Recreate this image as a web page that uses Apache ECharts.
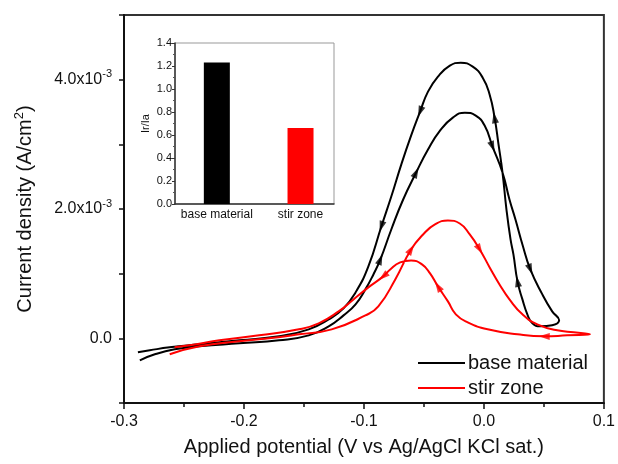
<!DOCTYPE html>
<html>
<head>
<meta charset="utf-8">
<script src="https://cdn.jsdelivr.net/npm/echarts@6/dist/echarts.min.js"></script>
<style>
  html, body { margin: 0; padding: 0; background: #fff; }
  #main { width: 618px; height: 464px; }
</style>
</head>
<body>
<div id="main"></div>
<script>
  // potential in V vs Ag/AgCl, current density in units of 1e-3 A/cm2
  // each loop is in scan order: forward sweep, turn, reverse sweep
  var baseE = [-0.2868, -0.2743, -0.2578, -0.2371, -0.2039, -0.1708, -0.1460, -0.1294, -0.1170, -0.1070,
    -0.0988, -0.0921, -0.0863, -0.0772, -0.0673, -0.0565, -0.0466, -0.0366, -0.0259, -0.0159,
    -0.0068, 0.0006, 0.0072, 0.0155, 0.0213, 0.0263, 0.0321, 0.0387, 0.0487, 0.0569,
    0.0627, 0.0569, 0.0470, 0.0404, 0.0362, 0.0321, 0.0280, 0.0246, 0.0222, 0.0188,
    0.0155, 0.0122, 0.0089, 0.0048, -0.0010, -0.0093, -0.0193, -0.0284, -0.0383, -0.0466,
    -0.0532, -0.0607, -0.0689, -0.0772, -0.0855, -0.0963, -0.1070, -0.1170, -0.1294, -0.1460,
    -0.1708, -0.2039, -0.2371, -0.2619, -0.2785, -0.2884];
  var baseJ = [-0.340, -0.247, -0.170, -0.124, -0.077, -0.031, 0.046, 0.185, 0.355, 0.525,
    0.757, 0.988, 1.220, 1.683, 2.147, 2.564, 2.919, 3.212, 3.413, 3.490,
    3.444, 3.290, 2.965, 2.564, 2.147, 1.838, 1.452, 1.066, 0.680, 0.417,
    0.278, 0.201, 0.185, 0.232, 0.371, 0.602, 0.880, 1.297, 1.529, 1.992,
    2.564, 2.996, 3.413, 3.768, 4.031, 4.201, 4.263, 4.216, 4.046, 3.815,
    3.506, 3.135, 2.687, 2.193, 1.730, 1.112, 0.710, 0.463, 0.293, 0.139,
    0.031, -0.031, -0.093, -0.139, -0.185, -0.216];
  var baseArrowAt = [12, 15, 22, 27, 36, 42, 50, 54];

  var stirE = [-0.2619, -0.2371, -0.2039, -0.1791, -0.1542, -0.1269, -0.0988, -0.0880, -0.0739, -0.0607,
    -0.0507, -0.0408, -0.0300, -0.0201, -0.0118, -0.0035, 0.0048, 0.0130, 0.0213, 0.0321,
    0.0445, 0.0611, 0.0884, 0.0694, 0.0503, 0.0280, 0.0031, -0.0135, -0.0234, -0.0300,
    -0.0383, -0.0449, -0.0516, -0.0607, -0.0698, -0.0781, -0.0839, -0.0963, -0.1087, -0.1211,
    -0.1377, -0.1542, -0.1874, -0.2205, -0.2453, -0.2578];
  var stirJ = [-0.247, -0.124, -0.046, 0.000, 0.062, 0.139, 0.355, 0.494, 0.911, 1.375,
    1.606, 1.761, 1.822, 1.776, 1.606, 1.375, 1.097, 0.834, 0.602, 0.371,
    0.216, 0.124, 0.062, 0.046, 0.031, 0.062, 0.139, 0.247, 0.371, 0.571,
    0.803, 1.004, 1.143, 1.205, 1.174, 1.066, 0.958, 0.788, 0.602, 0.417,
    0.232, 0.139, 0.046, -0.031, -0.108, -0.139];
  var stirArrowAt = [9, 15, 24, 30, 36];

  var insetCategories = ['base material', 'stir zone'];
  var insetRatio = [1.23, 0.66];

  var font = 'Liberation Sans, Arial, sans-serif';

  function pairs(xs, js) {
    return xs.map(function (x, i) { return [x, js[i] * 1e-3]; });
  }

  var chart = echarts.init(document.getElementById('main'));

  chart.setOption({
    animation: false,
    backgroundColor: '#fff',
    textStyle: {fontFamily: font, color: '#111'},
    grid: [
      {left: 124, top: 15, width: 483, height: 388, show: true, borderColor: '#333', borderWidth: 2},
      {left: 175, top: 43, width: 159, height: 161, show: true, borderColor: '#999', borderWidth: 1}
    ],
    xAxis: [
      {
        type: 'value', gridIndex: 0, min: -0.3, max: 0.1, interval: 0.1,
        name: 'Applied potential (V vs Ag/AgCl KCl sat.)', nameLocation: 'middle', nameGap: 34,
        nameTextStyle: {fontSize: 20, color: '#111', fontFamily: font},
        axisLine: {onZero: false, lineStyle: {color: '#111', width: 2}},
        axisTick: {length: 6, lineStyle: {color: '#111', width: 1.5}},
        minorTick: {show: true, splitNumber: 2, length: 4, lineStyle: {color: '#111', width: 1.5}},
        splitLine: {show: false},
        axisLabel: {
          fontSize: 16, color: '#111', margin: 11, fontFamily: font,
          formatter: function (v) { return Math.abs(v) < 1e-9 ? '0.0' : v.toFixed(1); }
        }
      },
      {
        type: 'value', gridIndex: 1, min: 0.5, max: 2.4, interval: 0.5,
        axisLine: {onZero: false, lineStyle: {color: '#333', width: 1.5}},
        axisTick: {show: false},
        splitLine: {show: false},
        axisLabel: {
          fontSize: 12, color: '#111', margin: 5, fontFamily: font, showMaxLabel: false,
          formatter: function (v) {
            var i = Math.round(v) - 1;
            return Math.abs(v - Math.round(v)) < 1e-9 && insetCategories[i] ? insetCategories[i] : '';
          }
        }
      }
    ],
    yAxis: [
      {
        type: 'value', gridIndex: 0, min: -1e-3, max: 5e-3, interval: 1e-3,
        name: '{n|Current density (A/cm}{s|2}{n|)}', nameLocation: 'middle', nameGap: 87,
        nameTextStyle: {
          rich: {
            n: {fontSize: 20, color: '#111', fontFamily: font, lineHeight: 24},
            s: {fontSize: 13, color: '#111', fontFamily: font, lineHeight: 13, verticalAlign: 'top'}
          }
        },
        axisLine: {onZero: false, lineStyle: {color: '#111', width: 2}},
        axisTick: {length: 5, lineStyle: {color: '#111', width: 1.5}},
        splitLine: {show: false},
        axisLabel: {
          margin: 12,
          formatter: function (v) {
            var m = Math.round(v * 1e3);
            if (m === 0) return '{m|0.0}';
            if (m % 2 !== 0) return '';
            return '{m|' + m.toFixed(1) + 'x10}{s|-3}';
          },
          rich: {
            m: {fontSize: 16, color: '#111', fontFamily: font, lineHeight: 22},
            s: {fontSize: 11, color: '#111', fontFamily: font, lineHeight: 11, verticalAlign: 'top'}
          }
        }
      },
      {
        type: 'value', gridIndex: 1, min: 0, max: 1.4, interval: 0.2,
        name: 'Ir/Ia', nameLocation: 'middle', nameGap: 24,
        nameTextStyle: {fontSize: 11, color: '#111', fontFamily: font},
        axisLine: {onZero: false, lineStyle: {color: '#333', width: 1.5}},
        axisTick: {length: 3, lineStyle: {color: '#333'}},
        minorTick: {show: true, splitNumber: 2, length: 2, lineStyle: {color: '#555'}},
        splitLine: {show: false},
        axisLabel: {
          fontSize: 11, color: '#111', margin: 3, fontFamily: font,
          formatter: function (v) { return v.toFixed(1); }
        }
      }
    ],
    legend: {
      left: 413, top: 348, orient: 'vertical', itemGap: 5,
      icon: 'rect', itemWidth: 47, itemHeight: 2,
      data: ['base material', 'stir zone'],
      textStyle: {fontSize: 20, color: '#111', fontFamily: font, padding: [0, 0, 0, -2]}
    },
    series: [
      {
        name: 'base material', type: 'line', xAxisIndex: 0, yAxisIndex: 0,
        data: pairs(baseE, baseJ), smooth: 0.5, symbol: 'none',
        lineStyle: {color: '#000', width: 2}, itemStyle: {color: '#000'}
      },
      {
        name: 'stir zone', type: 'line', xAxisIndex: 0, yAxisIndex: 0,
        data: pairs(stirE, stirJ), smooth: 0.5, symbol: 'none',
        lineStyle: {color: '#ff0000', width: 2}, itemStyle: {color: '#ff0000'}
      },
      {
        id: 'baseArrows', type: 'scatter', xAxisIndex: 0, yAxisIndex: 0,
        symbol: 'triangle', symbolSize: [7, 11], itemStyle: {color: '#000'}, data: [], z: 3
      },
      {
        id: 'stirArrows', type: 'scatter', xAxisIndex: 0, yAxisIndex: 0,
        symbol: 'triangle', symbolSize: [7, 11], itemStyle: {color: '#ff0000'}, data: [], z: 3
      },
      {
        type: 'bar', xAxisIndex: 1, yAxisIndex: 1, barWidth: 26,
        data: insetRatio.map(function (v, i) { return [i + 1, v]; }),
        itemStyle: {color: function (p) { return p.dataIndex === 0 ? '#000' : '#ff0000'; }}
      }
    ]
  });

  // arrowheads sit on data points, turned along the scan direction in screen space
  function arrows(xs, js, idx) {
    var pts = pairs(xs, js);
    return idx.map(function (i) {
      var a = chart.convertToPixel({gridIndex: 0}, pts[i - 1]);
      var b = chart.convertToPixel({gridIndex: 0}, pts[i + 1]);
      var ang = Math.atan2(a[1] - b[1], b[0] - a[0]) * 180 / Math.PI - 90;
      return {value: pts[i], symbolRotate: ang};
    });
  }

  chart.setOption({
    series: [
      {id: 'baseArrows', data: arrows(baseE, baseJ, baseArrowAt)},
      {id: 'stirArrows', data: arrows(stirE, stirJ, stirArrowAt)}
    ]
  });
</script>
</body>
</html>
